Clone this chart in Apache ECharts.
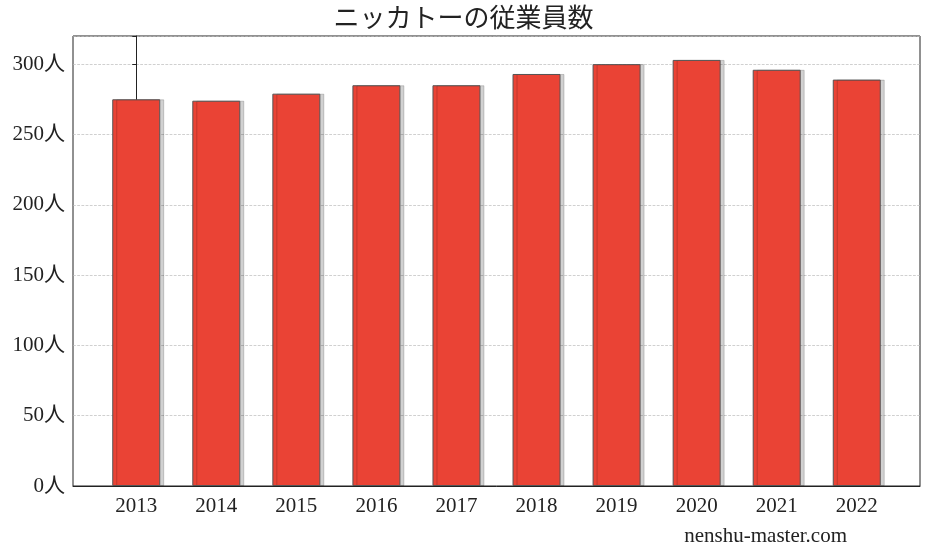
<!DOCTYPE html>
<html><head><meta charset="utf-8">
<script src="https://cdn.jsdelivr.net/npm/echarts@6/dist/echarts.min.js"></script>
<style>html,body{margin:0;padding:0;background:#fff}#c{width:927px;height:555px}</style>
</head><body><div id="c"></div>
<script>
const categories = ['2013','2014','2015','2016','2017','2018','2019','2020','2021','2022'];
const employees = [275, 274, 279, 285, 285, 293, 300, 303, 296, 289];
const yTicks = [0, 50, 100, 150, 200, 250, 300];
const font = '"Liberation Serif", "DejaVu Serif", "Noto Sans CJK JP", serif';
const chart = echarts.init(document.getElementById('c'));
chart.setOption({
  animation: false,
  title: { text: 'ニッカトーの従業員数', left: 'center', top: 2,
    textStyle: { fontFamily: font, fontSize: 26, fontWeight: 'normal', color: '#222' } },
  grid: { left: 73, right: 7, top: 36, bottom: 69, show: true, borderColor: '#222', borderWidth: 1 },
  xAxis: { type: 'value', min: -0.79, max: 9.79,
    splitLine: { show: false },
    axisLine: { lineStyle: { color: '#222' } }, axisTick: { show: false },
    axisLabel: { customValues: categories.map((c, i) => i), formatter: v => categories[Math.round(v)],
      fontFamily: font, fontSize: 21, color: '#222', margin: 10 } },
  yAxis: { type: 'value', min: 0, max: 320, interval: 50,
    axisLine: { show: true, lineStyle: { color: '#222' } },
    axisTick: { show: true, length: 4, lineStyle: { color: '#222' } },
    splitLine: { lineStyle: { color: '#bbb', type: 'dashed', width: 0.7 } },
    axisLabel: { fontFamily: font, fontSize: 21, color: '#222',
      formatter: v => yTicks.includes(v) ? v + '人' : '' } },
  series: [{ type: 'bar', data: employees.map((v, i) => [i, v]), barWidth: 48,
    itemStyle: { color: '#ea4335', borderColor: '#555', borderWidth: 1,
      shadowColor: 'rgba(0,0,0,0.18)', shadowOffsetX: 4, shadowOffsetY: 0, shadowBlur: 0 } }],
  graphic: [{ type: 'text', right: 80, bottom: 8,
    style: { text: 'nenshu-master.com', fontFamily: font, fontSize: 21, fill: '#222' } }]
});
</script></body></html>
